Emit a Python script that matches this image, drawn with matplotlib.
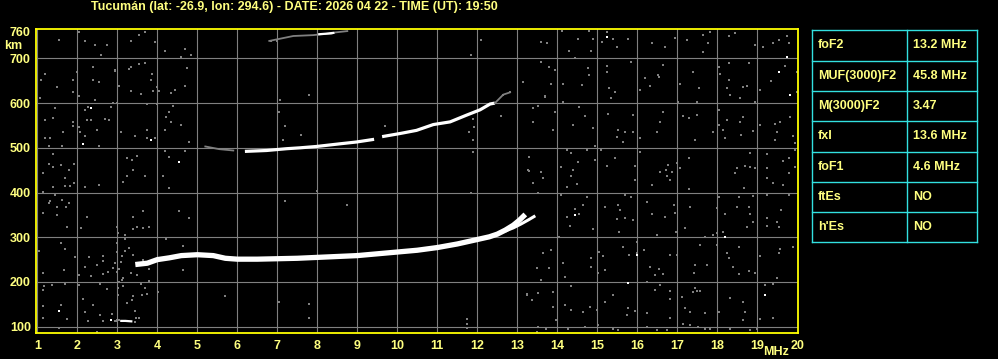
import numpy as np
import matplotlib
matplotlib.use("Agg")
import matplotlib.pyplot as plt

# --- header / table text
title = "Tucumán (lat: -26.9, lon: 294.6) - DATE: 2026 04 22 - TIME (UT): 19:50"
param_names = ["foF2", "MUF(3000)F2", "M(3000)F2", "fxI", "foF1", "ftEs", "h'Es"]
param_values = ["13.2 MHz", "45.8 MHz", "3.47", "13.6 MHz", "4.6 MHz", "NO", "NO"]

# --- F2 trace (ordinary + extraordinary split near the top)
f2_freq = [3.45, 3.75, 4.0, 4.3, 4.6, 5.0, 5.4, 5.7, 6.0, 6.5, 7.0, 7.5, 8.0, 8.5, 9.0,
           9.5, 10.0, 10.5, 11.0, 11.5, 12.0, 12.3, 12.5, 12.7, 12.9, 13.05, 13.2]
f2_height = [239, 242, 250, 254, 259, 261, 259, 253, 251, 251, 252, 253, 255, 257, 259,
             263, 267, 271, 277, 285, 295, 301, 307, 316, 327, 338, 351]
x_freq = [12.7, 12.9, 13.1, 13.3, 13.45]
x_height = [314, 321, 330, 340, 348]

# --- second hop (2F), gap around 9.5 MHz
f2b_faint_freq = [5.2, 5.55, 5.9]
f2b_faint_height = [503, 497, 494]
f2b_freq = [6.19, 6.73, 7.23, 7.57, 7.98, 8.57, 8.98, 9.42, np.nan, 9.62, 10.07, 10.48,
            10.9, 11.32, 11.73, 12.07, 12.32, 12.44]
f2b_height = [492, 494, 498, 500, 503, 509, 513, 519, np.nan, 525, 532, 539,
              552, 558, 573, 585, 598, 600]
f2b_tail_freq = [12.44, 12.65, 12.82]
f2b_tail_height = [600, 619, 624]

# --- third hop (3F) at the top edge
f3_freq = [6.8, 7.4, 7.9, 8.1, 8.35, 8.45, 8.75]
f3_height = [739, 750, 752, 754, 755, 758, 761]
f3_bright_freq = [8.05, 8.2, 8.4]
f3_bright_height = [754, 755, 757]

# --- low echo near 110 km
low_freq = [3.1, 3.2, 3.35]
low_height = [113, 113, 112]

# --- background noise (gray speckles)
noise_f = [
    # 1-3 MHz
    1.55, 2.03, 2.19, 2.44, 2.73, 2.58, 1.19, 1.08, 1.48, 1.88, 1.88, 1.98, 2.40, 2.38, 2.53,
    2.94, 2.03, 1.07, 2.44, 1.44, 1.40, 1.19, 1.88, 1.88, 2.25, 2.35, 2.27, 2.19, 2.69, 2.78,
    2.83, 2.88, 2.98, 2.48, 2.03, 1.65, 1.19, 1.32, 1.30, 1.62, 2.07, 2.19, 2.55, 1.38, 1.30,
    1.38, 1.58, 1.78, 1.92, 1.68, 1.13, 1.81, 1.69, 1.40, 1.92, 2.19, 2.55, 1.13, 1.44, 1.30,
    1.15, 1.32, 1.63, 1.80, 1.72, 1.48, 1.48, 2.23, 1.73, 2.08, 2.98, 1.03, 1.60, 1.68, 1.93,
    2.30, 2.19, 2.48, 2.65, 2.63, 2.98, 1.15, 1.67, 2.03, 2.35, 2.63, 2.77, 2.88, 1.15, 1.17,
    1.37, 1.68, 2.03, 2.57, 2.73, 3.03, 1.13, 1.58, 1.73, 1.13, 2.13, 2.38, 2.19, 2.27, 2.48,
    1.53, 2.86, 2.98, 2.65, 2.57,
    # 3-6.5 MHz
    3.68, 3.53, 3.33, 3.93, 4.18, 4.68, 4.83, 4.58, 3.33, 3.28, 3.53, 3.68, 4.73, 3.87, 3.83,
    3.98, 2.93, 3.03, 3.33, 3.58, 3.89, 4.03, 4.33, 4.43, 4.68, 3.98, 3.73, 4.39, 4.28, 4.22,
    4.33, 4.58, 4.18, 3.08, 3.73, 3.43, 3.75, 3.93, 4.78, 4.18, 4.68, 4.28, 3.48, 3.23, 3.37,
    3.39, 3.23, 3.68, 4.14, 3.14, 4.28, 4.53, 4.78, 3.64, 3.39, 3.39, 3.64, 3.78, 3.48, 4.22,
    3.02, 3.18, 3.18, 2.98, 3.28, 3.18, 3.39, 3.12, 3.10, 2.93, 3.64, 3.75, 3.78, 3.03, 3.33,
    3.50, 3.00, 3.14, 3.12, 3.78, 3.58, 3.14, 3.02, 3.68, 4.02, 3.02, 3.39, 3.62, 3.73, 3.23,
    3.37, 3.43, 3.47, 3.55, 2.98, 4.64, 4.64, 5.68, 2.95, 3.05, 3.45,
    # 6.5-13 MHz (sparse)
    6.83, 6.98, 7.78, 7.07, 7.03, 7.19, 7.58, 7.13, 9.69, 11.88, 11.80, 11.92, 11.88, 11.88,
    12.58, 12.08, 11.83, 7.19, 8.73, 7.98, 11.83, 7.05, 7.80, 7.80, 11.73, 11.73, 11.73,
    12.65, 12.82,
    # 13-16.5 MHz
    14.11, 14.79, 15.25, 13.58, 13.73, 14.53, 14.88, 15.11, 15.38, 15.78, 16.38, 15.48, 14.30,
    14.83, 14.44, 13.58, 13.80, 13.94, 14.78, 14.79, 15.23, 15.25, 15.84, 16.19, 16.33, 16.08,
    14.13, 14.61, 13.84, 13.13, 13.69, 14.13, 15.29, 15.44, 15.33, 16.53, 13.40, 13.94, 14.54,
    14.69, 15.28, 15.88, 13.38, 13.88, 14.38, 14.88, 15.53, 15.50, 15.68, 15.88, 15.63, 16.08,
    16.48, 14.94, 15.09, 14.23, 14.33, 14.53, 14.75, 14.94, 15.25, 15.44, 15.94, 16.08, 13.29,
    13.29, 13.59, 13.63, 13.40, 14.33, 14.38, 14.08, 14.23, 14.50, 15.94, 16.38, 13.53, 14.08,
    14.73, 14.63, 14.44, 14.55, 14.23, 14.32, 14.88, 15.19, 15.53, 15.57, 15.48, 15.54, 15.69,
    15.84, 16.23, 16.36, 15.68, 15.88, 16.48, 14.05, 13.63, 13.85, 14.13, 13.48, 13.80, 13.58,
    14.19, 14.33, 14.84, 15.05, 15.13, 14.83, 15.03, 15.19, 15.65, 15.79, 15.98, 16.17, 16.33,
    16.44, 16.25, 15.98, 13.23, 13.36, 13.53, 13.88, 13.88, 14.19, 14.33, 14.63, 14.82, 14.98,
    15.19, 15.38, 15.73, 15.78, 15.94, 16.23, 16.44, 13.97, 13.53, 13.72, 14.28, 14.69, 15.03,
    15.38, 15.53, 16.25, 16.48, 13.48, 13.23, 13.28, 13.38, 13.53, 13.69,
    # 16.5-20 MHz
    16.68, 16.93, 17.25, 17.64, 17.83, 17.77, 17.64, 18.28, 18.45, 18.93, 19.14, 19.39, 19.53,
    19.78, 19.73, 16.64, 16.52, 17.39, 17.08, 17.53, 18.03, 18.28, 18.78, 18.08, 18.28, 18.25,
    18.64, 18.75, 18.33, 18.58, 18.95, 19.08, 19.35, 19.70, 19.98, 19.98, 16.64, 17.14, 17.28,
    17.50, 17.02, 17.50, 17.89, 18.03, 18.03, 18.25, 18.58, 18.64, 18.14, 18.18, 18.60, 18.89,
    19.08, 19.43, 19.48, 19.43, 19.58, 19.83, 19.89, 19.93, 17.43, 16.56, 16.77, 16.58, 16.71,
    16.88, 16.73, 16.83, 16.98, 17.08, 17.28, 17.28, 18.50, 18.70, 18.83, 18.95, 18.81, 18.45,
    18.67, 19.23, 19.25, 19.39, 19.64, 19.64, 19.78, 19.95, 19.93, 19.79, 19.25, 16.91, 16.70,
    16.93, 17.33, 17.18, 16.97, 18.00, 18.03, 18.18, 18.50, 18.53, 18.78, 18.83, 18.89, 18.75,
    18.89, 19.23, 19.23, 19.23, 19.48, 19.54, 19.60, 19.78, 17.68, 17.89, 18.00, 18.14, 17.58,
    17.75, 17.45, 17.42, 16.81, 16.98, 16.54, 16.64, 18.00, 18.25, 18.28, 18.53, 18.39, 18.53,
    18.78, 18.93, 19.08, 19.56, 19.53, 19.89, 19.48, 19.39, 19.18, 16.58, 16.81, 16.81, 17.12,
    17.43, 17.50, 17.58, 17.39, 17.20, 17.33, 17.68, 18.03, 18.33, 18.64, 18.70, 18.64, 19.08,
    19.39, 16.81, 17.14, 17.31, 17.52, 17.68, 17.81, 18.33, 18.81, 19.00, 16.73,
]
noise_h = [
    742, 760, 739, 730, 730, 707, 666, 652, 637, 652, 625, 670, 680, 652, 647,
    672, 616, 611, 607, 588, 566, 562, 558, 549, 562, 562, 591, 585, 564, 562,
    591, 601, 600, 540, 547, 536, 523, 521, 504, 504, 536, 526, 504, 486, 464,
    458, 461, 450, 464, 432, 443, 415, 415, 413, 422, 413, 417, 402, 394, 376,
    355, 380, 383, 377, 367, 367, 350, 346, 322, 320, 324, 270, 288, 274, 255,
    256, 234, 238, 248, 257, 268, 221, 227, 216, 213, 218, 223, 231, 182, 190,
    193, 196, 193, 196, 184, 201, 146, 149, 117, 119, 161, 149, 132, 113, 88,
    96, 128, 113, 113, 126,
    759, 752, 739, 736, 716, 721, 707, 704, 681, 676, 687, 689, 679, 664, 651,
    637, 674, 638, 627, 620, 626, 626, 622, 629, 638, 599, 597, 594, 579, 569,
    558, 550, 540, 536, 540, 527, 521, 523, 514, 493, 493, 480, 482, 478, 473,
    451, 438, 438, 438, 423, 410, 359, 342, 359, 346, 319, 320, 324, 324, 296,
    309, 306, 296, 287, 275, 270, 261, 257, 244, 242, 249, 244, 229, 229, 219,
    216, 222, 210, 205, 203, 196, 190, 187, 187, 178, 172, 168, 172, 173, 153,
    160, 135, 119, 119, 115, 227, 280, 168, 112, 116, 111,
    738, 738, 619, 608, 581, 548, 528, 517, 548, 564, 536, 547, 517, 490,
    572, 741, 708, 381, 373, 404, 399, 156, 150, 120, 118, 107, 97,
    619, 624,
    761, 761, 758, 737, 734, 743, 743, 736, 743, 743, 734, 726, 716,
    716, 701, 693, 681, 674, 678, 663, 683, 670, 693, 655, 639, 629,
    642, 640, 642, 648, 614, 603, 634, 625, 611, 659, 588, 581, 592,
    572, 575, 573, 558, 540, 550, 545, 540, 525, 535, 535, 514, 521,
    536, 505, 495, 495, 488, 468, 495, 473, 460, 478, 460, 491, 480,
    448, 447, 433, 422, 438, 450, 456, 413, 418, 428, 417, 400, 395,
    389, 372, 363, 351, 346, 326, 319, 368, 372, 361, 341, 311, 395,
    391, 378, 351, 342, 339, 305, 301, 264, 272, 242, 232, 231, 205,
    212, 190, 253, 268, 257, 234, 219, 226, 279, 260, 264, 272, 234,
    216, 201, 290, 173, 160, 175, 178, 145, 149, 138, 134, 143, 138,
    156, 170, 126, 141, 135, 130, 182, 115, 100, 95, 95, 100, 103,
    95, 93, 100, 93, 89, 170, 450, 589, 594, 615,
    726, 745, 741, 752, 760, 734, 715, 749, 756, 730, 726, 734, 741,
    734, 749, 685, 663, 670, 642, 634, 681, 689, 689, 664, 651, 634,
    636, 639, 617, 612, 603, 629, 649, 684, 670, 625, 581, 572, 566,
    573, 603, 602, 536, 584, 551, 562, 558, 570, 540, 523, 528, 538,
    551, 553, 536, 518, 558, 570, 527, 510, 517, 558, 462, 447, 451,
    447, 436, 428, 465, 454, 478, 408, 454, 460, 488, 455, 457, 443,
    411, 455, 432, 421, 417, 471, 478, 457, 495, 443, 486, 372, 346,
    355, 368, 320, 312, 366, 391, 351, 368, 391, 368, 351, 334, 323,
    393, 395, 344, 326, 334, 323, 361, 395, 301, 304, 309, 311, 282,
    238, 238, 219, 260, 260, 230, 217, 282, 264, 253, 279, 234, 217,
    224, 219, 257, 274, 264, 279, 208, 195, 193, 193, 180, 162, 167,
    186, 180, 180, 178, 141, 134, 130, 134, 165, 156, 134, 115, 118,
    119, 119, 105, 104, 100, 95, 95, 95, 93, 95, 93,
]

# bright isolated speckles
spark_f = [2.33, 2.13, 1.53, 2.83, 4.53, 3.83, 15.23, 14.44, 15.98, 15.78, 19.74, 19.53, 19.83, 18.18, 19.18]
spark_h = [589, 508, 136, 114, 469, 517, 748, 350, 260, 197, 704, 670, 617, 301, 172]

yellow = "#ffff80"
frame = "#ffff00"
cyan = "#33e0e0"
grey = "#808080"
font = "Liberation Sans"

fig = plt.figure(figsize=(9.98, 3.59), dpi=100, facecolor="black")
ax = fig.add_axes([35.7 / 998, 26.3 / 359, 762 / 998, 303.4 / 359])
ax.set_facecolor("black")

ax.set_xlim(0.96, 20.01)
ax.set_ylim(86.6, 765)
ax.set_xticks(range(1, 21))
ax.set_yticks(list(range(100, 701, 100)) + [760])
ax.grid(True, color=grey, lw=0.8)
ax.yaxis.get_gridlines()[-1].set_visible(False)
ax.xaxis.get_gridlines()[-1].set_visible(False)
ax.set_axisbelow(True)
ax.tick_params(length=0, colors=yellow, labelsize=9)
ax.tick_params(axis="y", pad=3.5)
ax.tick_params(axis="x", pad=5.5)
for lab in ax.get_xticklabels() + ax.get_yticklabels():
    lab.set_fontweight("bold")
    lab.set_family(font)
for s in ax.spines.values():
    s.set_color(frame)
    s.set_linewidth(1.3)

# noise
ax.plot(noise_f, noise_h, ls="none", marker="s", ms=1.5, mew=0, color=grey,
        antialiased=False)

# traces
ax.plot(f2_freq, f2_height, color="white", lw=3.8, solid_capstyle="butt")
ax.plot(x_freq, x_height, color="white", lw=2.2, solid_capstyle="butt")
ax.plot(f2b_faint_freq, f2b_faint_height, color=grey, lw=1.3)
ax.plot(f2b_freq, f2b_height, color="white", lw=2.3, solid_capstyle="butt")
ax.plot(f2b_tail_freq, f2b_tail_height, color=grey, lw=1.3)
ax.plot(f3_freq, f3_height, color=grey, lw=1.3)
ax.plot(f3_bright_freq, f3_bright_height, color="white", lw=1.6)
ax.plot(low_freq, low_height, color="white", lw=1.6)
ax.plot(spark_f, spark_h, ls="none", marker="s", ms=1.6, mew=0, color="white",
        antialiased=False)

# overlay in pixel coordinates for title, labels and table
ov = fig.add_axes([0, 0, 1, 1], facecolor="none")
ov.set_xlim(0, 998)
ov.set_ylim(359, 0)
ov.axis("off")
txt = dict(color=yellow, fontsize=9, fontweight="bold", family=font)
ov.text(294, 7, title, ha="center", va="center", **txt)
ov.text(13.5, 46, "km", ha="center", va="center", **txt)
ov.text(776, 352, "MHz", ha="center", va="center", **txt)

tx0, tx1, tx2 = 812.3, 907.3, 977.3
ty0, row_h = 30.3, 30.3
nrow = len(param_names)
for i in range(nrow + 1):
    ov.plot([tx0, tx2], [ty0 + i * row_h] * 2, color=cyan, lw=1.0)
for xx in (tx0, tx1, tx2):
    ov.plot([xx, xx], [ty0, ty0 + nrow * row_h], color=cyan, lw=1.0)
for i, (n, v) in enumerate(zip(param_names, param_values)):
    yc = ty0 + (i + 0.5) * row_h
    ov.text(818, yc, n, ha="left", va="center", **txt)
    ov.text(913, yc, v, ha="left", va="center", **txt)

fig.savefig("out.png", dpi=100, facecolor="black")
